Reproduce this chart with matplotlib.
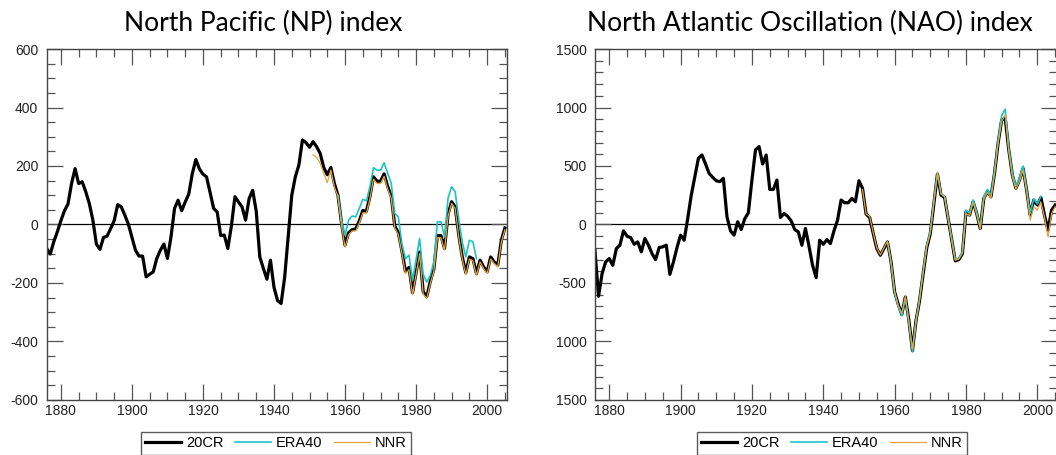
# grafico de los indices NP y NAO (20CR, ERA40, NNR)
import numpy as np
import matplotlib
matplotlib.use("Agg")
import matplotlib.pyplot as plt
from matplotlib.ticker import MultipleLocator

plt.rcParams["font.family"] = ["Liberation Sans", "DejaVu Sans"]
plt.rcParams["axes.unicode_minus"] = False

# años de cada serie
anios_20cr = np.arange(1876, 2006)
anios_era_np = np.arange(1958, 1998)
anios_nnr = np.arange(1951, 2006)
anios_era_nao = np.arange(1958, 2002)

# indice NP
np_20cr = [-82, -101, -59, -25, 13, 47, 70, 140, 191, 140,
           146, 112, 72, 15, -67, -85, -44, -40, -14, 13,
           68, 60, 32, 1, -44, -88, -108, -108, -179, -170,
           -162, -116, -88, -67, -116, -42, 55, 83, 47, 77,
           104, 174, 222, 190, 172, 163, 110, 55, 43, -38,
           -36, -82, -5, 95, 77, 60, 15, 89, 117, 45,
           -111, -150, -187, -122, -215, -260, -270, -180, -40, 100,
           163, 203, 289, 280, 264, 283, 266, 243, 195, 170,
           195, 140, 100, 5, -71, -28, -18, -15, 12, 48,
           45, 95, 163, 148, 148, 173, 130, 97, -5, -28,
           -90, -160, -147, -233, -165, -94, -230, -247, -195, -153,
           -38, -38, -82, 35, 78, 60, -35, -111, -165, -111,
           -117, -168, -122, -145, -162, -111, -128, -139, -54, -12]
np_era40 = [100, 15, -37, 15, 29, 26, 55, 86, 81, 129,
            194, 186, 186, 211, 175, 141, 38, 26, -65, -117,
            -105, -191, -120, -48, -170, -197, -174, -128, 9, 9,
            -42, 90, 129, 112, 20, -60, -111, -54, -59, -117]
np_nnr = [238, 230, 209, 175, 143, 186, 129, 95, -5, -78,
          -35, -22, -22, 5, 40, 38, 88, 155, 140, 140,
          165, 122, 90, -12, -35, -98, -168, -155, -240, -172,
          -100, -238, -253, -202, -160, -45, -45, -88, 28, 72,
          55, -42, -118, -172, -118, -124, -175, -128, -150, -168,
          -118, -133, -145, -60, -18]

# indice NAO
nao_20cr = [-220, -614, -420, -320, -291, -349, -206, -177, -54, -100,
            -111, -169, -149, -234, -120, -177, -249, -300, -197, -191,
            -177, -426, -320, -197, -91, -134, 51, 251, 409, 566,
            594, 517, 437, 403, 374, 366, 394, 66, -54, -91,
            23, -43, 50, 100, 380, 637, 666, 517, 594, 300,
            300, 380, 60, 94, 71, 31, -43, -63, -177, -34,
            -186, -349, -454, -134, -169, -129, -163, -54, 37, 209,
            186, 186, 223, 194, 374, 309, 89, 60, -77, -206,
            -263, -206, -149, -320, -577, -680, -769, -620, -820, -1077,
            -820, -649, -420, -200, -77, 180, 431, 251, 231, 51,
            -134, -311, -300, -250, 108, 80, 194, 94, -34, 223,
            280, 237, 437, 694, 894, 909, 637, 423, 309, 380,
            480, 294, 80, 209, 166, 231, 80, -49, 123, 166]
nao_era40 = [-150, -330, -590, -700, -780, -630, -840, -1090, -830, -640,
             -400, -180, -60, 200, 440, 265, 240, 60, -120, -300,
             -290, -230, 125, 95, 210, 105, -20, 240, 300, 250,
             460, 720, 930, 986, 660, 440, 330, 400, 500, 305,
             95, 220, 175, 240]
nao_nnr = [300, 90, 70, -70, -200, -260, -200, -145, -315, -570,
           -690, -760, -615, -830, -1070, -810, -640, -410, -190, -70,
           190, 445, 260, 235, 45, -140, -305, -295, -245, 95,
           75, 190, 85, -40, 215, 275, 225, 430, 690, 880,
           940, 620, 410, 300, 370, 465, 280, 37, 151, 123,
           194, 66, -106, 94, 151]

titulos = ["North Pacific (NP) index", "North Atlantic Oscillation (NAO) index"]
etiquetas_np = ["-600", "-400", "-200", "0", "200", "400", "600"]
etiquetas_nao = ["1500", "1000", "-500", "0", "500", "1000", "1500"]

COLOR_ERA = "#1cc3c6"
COLOR_NNR = "#e6a43c"

fig = plt.figure(figsize=(10.56, 4.55), dpi=100)
ax1 = fig.add_axes([0.0442, 0.1209, 0.4356, 0.7714])
ax2 = fig.add_axes([0.5634, 0.1209, 0.4375, 0.7714])

paneles = [
    (ax1, np_20cr, np_era40, np_nnr, anios_era_np, 600, 200, 50, etiquetas_np, 0.470, 141),
    (ax2, nao_20cr, nao_era40, nao_nnr, anios_era_nao, 1500, 500, 100, etiquetas_nao, 0.466, 697),
]

for i, (ax, serie, era, nnr, anios_era, lim, paso, paso_min, etiquetas, x_tit, x_leg) in enumerate(paneles):
    # lineas: 20CR gruesa, luego ERA40 y NNR encima
    ax.axhline(0, color="black", lw=0.9, zorder=1)
    l1, = ax.plot(anios_20cr, serie, color="black", lw=2.3, zorder=2, label="20CR")
    l2, = ax.plot(anios_era, era, color=COLOR_ERA, lw=1.2, zorder=3, label="ERA40")
    l3, = ax.plot(anios_nnr, nnr, color=COLOR_NNR, lw=0.9, zorder=4, label="NNR")

    ax.set_xlim(1876, 2005.5)
    ax.set_ylim(-lim, lim)
    ax.xaxis.set_major_locator(MultipleLocator(20))
    ax.xaxis.set_minor_locator(MultipleLocator(5))
    ax.set_yticks(np.arange(-lim, lim + 1, paso))
    ax.set_yticklabels(etiquetas)
    ax.yaxis.set_minor_locator(MultipleLocator(paso_min))

    # ticks hacia dentro en los cuatro lados
    ax.tick_params(which="both", direction="in", top=True, right=True,
                   color="#555555", labelsize=10, labelcolor="#222222")
    ax.tick_params(which="major", length=11.5, width=0.9)
    ax.tick_params(which="minor", length=6, width=0.9)
    ax.tick_params(axis="y", which="major", pad=6)
    ax.tick_params(axis="x", which="major", pad=3)
    for spine in ax.spines.values():
        spine.set_edgecolor("#444444")
        spine.set_linewidth(1.0)

    ax.set_title(titulos[i], family="Lato", fontsize=19, pad=13, x=x_tit)

    # leyenda debajo de cada panel
    fig.legend(handles=[l1, l2, l3], loc="upper left",
               bbox_to_anchor=(x_leg / 1056, 1 - 432 / 455), ncol=3, fontsize=10.5,
               frameon=True, fancybox=False, edgecolor="#333333",
               handlelength=2.45, handletextpad=0.35, columnspacing=0.8,
               borderpad=0.3, borderaxespad=0)

fig.savefig("out.png", dpi=100, facecolor="white")
